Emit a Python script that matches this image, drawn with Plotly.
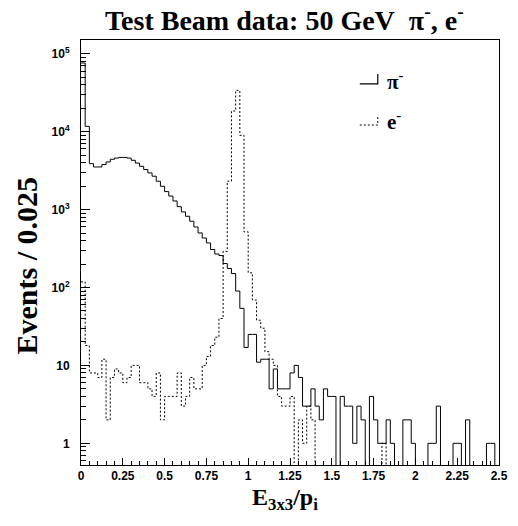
import numpy as np
import plotly.graph_objects as go

# Binning of E_3x3/p_i: 100 bins of 0.025 between 0 and 2.5
bin_width = 0.025
n_bins = 100
edges = np.round(np.arange(n_bins + 1) * bin_width, 4)

# Events per bin, negative pions
pion_counts = [
    76000, 11700, 3880, 3520, 3520, 3780, 4080, 4420, 4580, 4670,
    4670, 4580, 4290, 3950, 3590, 3260, 2950, 2680, 2310, 1990,
    1700, 1490, 1290, 1090, 933, 820, 708, 598, 501, 432,
    373, 307, 269, 257, 203, 175, 151, 90, 54, 17,
    25, 25, 11, 12, 12, 5, 9, 5, 5, 5,
    8, 10, 7, 3, 3, 5, 3, 2, 5, 4,
    4, 0, 4, 3, 3, 1, 3, 2, 0, 4,
    2, 1, 1, 2, 1, 0, 0, 2, 2, 1,
    0, 0, 0, 1, 1, 3, 0, 0, 0, 1,
    1, 0, 2, 0, 0, 0, 0, 1, 1, 0,
]

# Events per bin, electrons
electron_counts = [
    118, 18, 8, 8, 7, 12, 2, 7, 9, 8,
    6, 7, 10, 10, 6, 6, 5, 4, 8, 2,
    4, 4, 4, 8, 3, 4, 7, 5, 5, 10,
    13, 18, 23, 40, 290, 2310, 18400, 33900, 8970, 517,
    154, 69, 38, 30, 15, 12, 10, 4, 3, 3,
    4, 0, 2, 1, 3, 2, 0, 0, 0, 0,
    0, 0, 0, 0, 0, 0, 0, 0, 0, 0,
    0, 0, 1, 0, 0, 0, 0, 0, 0, 0,
    0, 0, 0, 0, 0, 0, 0, 0, 0, 0,
    0, 0, 0, 0, 0, 0, 0, 0, 0, 0,
]

x_ticks = [0, 0.25, 0.5, 0.75, 1, 1.25, 1.5, 1.75, 2, 2.25, 2.5]
x_tick_text = ["0", "0.25", "0.5", "0.75", "1", "1.25", "1.5", "1.75", "2", "2.25", "2.5"]
y_ticks = [1, 10, 100, 1000, 10000, 100000]
y_tick_text = ["1", "10", "10<sup>2</sup>", "10<sup>3</sup>", "10<sup>4</sup>", "10<sup>5</sup>"]

Y_MIN, Y_MAX = 0.527, 1.5e5
FLOOR = 0.05  # empty bins drop below the visible log range


def step_points(counts):
    vals = [c if c > 0 else FLOOR for c in counts]
    return list(edges), vals + [vals[-1]]


fig = go.Figure()
for counts, dash in ((pion_counts, "solid"), (electron_counts, "2px,2px")):
    xs, ys = step_points(counts)
    fig.add_trace(go.Scatter(
        x=xs, y=ys, mode="lines", line_shape="hv",
        line=dict(color="black", width=1, dash=dash),
        showlegend=False, hoverinfo="skip",
    ))

# minor ticks for the log axis
y_minor = [k * 10.0 ** d for d in range(-1, 6) for k in range(2, 10)
           if Y_MIN < k * 10.0 ** d < Y_MAX]
x_minor = [round(v, 3) for v in np.arange(0, 2.5001, 0.05)]

tick_font = dict(family="Liberation Sans", size=12, color="black", weight="bold")

fig.update_xaxes(
    range=[0, 2.5], showgrid=False, zeroline=False,
    showline=True, linecolor="black", linewidth=1, mirror=True,
    tickmode="array", tickvals=x_ticks, ticktext=x_tick_text,
    ticks="inside", ticklen=7, tickcolor="black", tickwidth=1,
    minor=dict(tickmode="array", tickvals=x_minor, ticks="inside",
               ticklen=4, tickcolor="black", showgrid=False),
    tickfont=tick_font,
)
fig.update_yaxes(
    type="log", range=[np.log10(Y_MIN), np.log10(Y_MAX)],
    showgrid=False, zeroline=False,
    showline=True, linecolor="black", linewidth=1, mirror=True,
    tickmode="array", tickvals=y_ticks, ticktext=y_tick_text,
    ticks="inside", ticklen=9, tickcolor="black", tickwidth=1,
    minor=dict(tickmode="array", tickvals=y_minor, ticks="inside",
               ticklen=5, tickcolor="black", showgrid=False),
    tickfont=tick_font, ticklabelstandoff=8,
)

serif = "Liberation Serif"
annotations = [
    dict(text="Test Beam data: 50 GeV\u00a0\u00a0\u03c0<sup>-</sup>, e<sup>-</sup>",
         x=0.487, y=1.05, xref="paper", yref="paper",
         xanchor="center", yanchor="middle", showarrow=False,
         font=dict(family=serif, size=28, color="black", weight="bold")),
    dict(text="Events / 0.025", x=-0.131, y=0.47, xref="paper", yref="paper",
         xanchor="center", yanchor="middle", textangle=-90, showarrow=False,
         font=dict(family=serif, size=30, color="black", weight="bold")),
    dict(text="E<sub>3x3</sub>/p<sub>i</sub>", x=0.487, y=-0.08,
         xref="paper", yref="paper", xanchor="center", yanchor="middle",
         showarrow=False,
         font=dict(family=serif, size=24, color="black", weight="bold")),
    dict(text="\u03c0<sup>-</sup>", x=0.727, y=0.905, xref="paper", yref="paper",
         xanchor="left", yanchor="middle", showarrow=False,
         font=dict(family=serif, size=21, color="black", weight="bold")),
    dict(text="e<sup>-</sup>", x=0.727, y=0.81, xref="paper", yref="paper",
         xanchor="left", yanchor="middle", showarrow=False,
         font=dict(family=serif, size=21, color="black", weight="bold")),
]

# legend keys drawn as small histogram-edge glyphs
shapes = [
    dict(type="path", xref="paper", yref="paper",
         path="M 0.667 0.897 L 0.71 0.897 L 0.71 0.92",
         line=dict(color="black", width=1.2)),
    dict(type="path", xref="paper", yref="paper",
         path="M 0.667 0.80 L 0.71 0.80 L 0.71 0.82",
         line=dict(color="black", width=1, dash="2px,2px")),
]

fig.update_layout(
    width=518, height=526,
    margin=dict(l=81, r=10, t=39.5, b=61, pad=0),
    paper_bgcolor="white", plot_bgcolor="white",
    annotations=annotations, shapes=shapes,
)

fig.write_html("out.html")
